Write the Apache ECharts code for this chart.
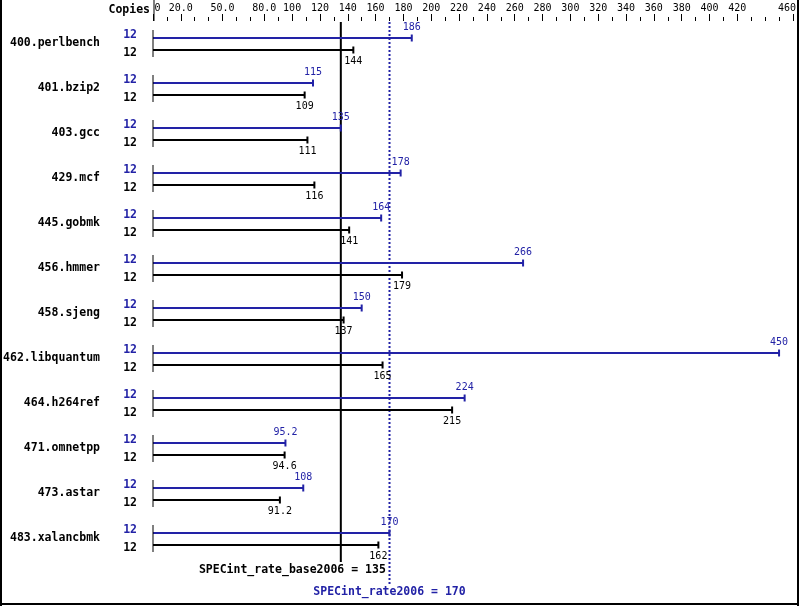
<!DOCTYPE html>
<html><head><meta charset="utf-8">
<script src="https://cdn.jsdelivr.net/npm/echarts@6/dist/echarts.min.js"></script>
<style>html,body{margin:0;padding:0;background:#fff}#c{width:799px;height:606px}</style>
</head><body><div id="c"></div>
<script>
// ---- data ----
const benchmarks = ['400.perlbench','401.bzip2','403.gcc','429.mcf','445.gobmk','456.hmmer','458.sjeng','462.libquantum','464.h264ref','471.omnetpp','473.astar','483.xalancbmk'];
const peakCopies = [12,12,12,12,12,12,12,12,12,12,12,12];
const baseCopies = [12,12,12,12,12,12,12,12,12,12,12,12];
const peakValues = [186,115,135,178,164,266,150,450,224,95.2,108,170];
const baseValues = [144,109,111,116,141,179,137,165,215,94.6,91.2,162];
const tickValues = [0,20,50,80,100,120,140,160,180,200,220,240,260,280,300,320,340,360,380,400,420,460];
const tickLabels = ['0','20.0','50.0','80.0','100','120','140','160','180','200','220','240','260','280','300','320','340','360','380','400','420','460'];
const specBase = 135;
const specPeak = 170;
const baseLabel = 'SPECint_rate_base2006 = 135';
const peakLabel = 'SPECint_rate2006 = 170';

const BLUE = '#2222a6';
const MONO = '"DejaVu Sans Mono", monospace';
const fmt = v => v < 100 ? v.toFixed(1) : String(Math.round(v));

function barItem(color, dy, above, drawStart) {
  return function (params, api) {
    const cat = api.value(0), v = api.value(1);
    const p0 = api.coord([0, cat]), p1 = api.coord([v, cat]);
    const y = Math.round(p0[1] + dy);
    const ch = [
      {type: 'line', shape: {x1: p0[0], y1: y, x2: p1[0], y2: y}, style: {stroke: color, lineWidth: 2}},
      {type: 'line', shape: {x1: p1[0], y1: y - 3.5, x2: p1[0], y2: y + 3.5}, style: {stroke: color, lineWidth: 2}},
      {type: 'text', x: p1[0], y: above ? y - 11 : y + 11,
       style: {text: fmt(v), fill: color, font: '10px ' + MONO, align: 'center', verticalAlign: 'middle'}}
    ];
    if (drawStart) ch.push({type: 'line', shape: {x1: p0[0], y1: p0[1] - 13.5, x2: p0[0], y2: p0[1] + 13.5}, style: {stroke: '#000', lineWidth: 1}});
    return {type: 'group', children: ch};
  };
}

function refItem(params, api) {
  const cs = params.coordSys;
  const v = api.value(0);
  const x = api.coord([v, 0])[0];
  const top = cs.y + 1, bottom = cs.y + cs.height;
  if (v === specBase) {
    return {type: 'group', children: [
      {type: 'line', shape: {x1: x, y1: top, x2: x, y2: bottom + 1}, style: {stroke: '#000', lineWidth: 2}},
      {type: 'text', x: x + 45, y: bottom + 9, style: {text: baseLabel, fill: '#000', font: 'bold 11.5px ' + MONO, align: 'right', verticalAlign: 'middle'}}
    ]};
  }
  return {type: 'group', children: [
    {type: 'line', shape: {x1: x, y1: top, x2: x, y2: bottom + 23}, style: {stroke: BLUE, lineWidth: 2, lineDash: [2, 2]}},
    {type: 'text', x: x, y: bottom + 31, style: {text: peakLabel, fill: BLUE, font: 'bold 11.5px ' + MONO, align: 'center', verticalAlign: 'middle'}}
  ]};
}

const chart = echarts.init(document.getElementById('c'), null, {renderer: 'canvas'});
chart.setOption({
  animation: false,
  backgroundColor: '#fff',
  grid: {left: 153, width: 643, top: 21, height: 540},
  xAxis: [{
    type: 'value', position: 'top', min: 0, max: 460,
    axisLine: {show: false}, splitLine: {show: false},
    axisTick: {show: true, customValues: tickValues, length: 7, lineStyle: {color: '#000', width: 1}},
    axisLabel: {
      customValues: tickValues, margin: 8, color: '#000', fontFamily: MONO, fontSize: 10,
      formatter: function (v) {
        const s = tickLabels[tickValues.indexOf(v)];
        if (v === 0) return '{l|' + s + '}';
        if (v === 460) return '{r|' + s + '}';
        return s;
      },
      rich: {l: {padding: [0, 0, 0, 9], fontFamily: MONO, fontSize: 10, color: '#000'},
             r: {padding: [0, 12, 0, 0], fontFamily: MONO, fontSize: 10, color: '#000'}}
    }
  }, {
    type: 'value', position: 'top', min: 0, max: 460, interval: 10,
    axisLine: {show: false}, splitLine: {show: false}, axisLabel: {show: false},
    axisTick: {show: true, length: 4, lineStyle: {color: '#000', width: 1}}
  }],
  yAxis: {
    type: 'category', data: benchmarks, inverse: true,
    axisLine: {show: false}, axisTick: {show: false}, splitLine: {show: false},
    axisLabel: {
      margin: 16, align: 'right', padding: [4, 0, 0, 0],
      formatter: function (name, i) {
        return '{p|' + peakCopies[i] + '}\n{n|' + name + '}\n{b|' + baseCopies[i] + '}';
      },
      rich: {
        p: {color: BLUE, fontFamily: MONO, fontWeight: 'bold', fontSize: 11.5, lineHeight: 8, align: 'right'},
        n: {color: '#000', fontFamily: MONO, fontWeight: 'bold', fontSize: 11.5, lineHeight: 8, align: 'right', padding: [0, 37, 0, 0]},
        b: {color: '#000', fontFamily: MONO, fontWeight: 'bold', fontSize: 11.5, lineHeight: 12, align: 'right'}
      }
    }
  },
  series: [
    {type: 'custom', name: 'ref', z: 1, clip: false, renderItem: refItem,
     encode: {x: 0, y: 1}, data: [[specBase, 0], [specPeak, 0]]},
    {type: 'custom', name: 'Peak', z: 3, clip: false, renderItem: barItem(BLUE, -5.5, true, false),
     encode: {x: 1, y: 0}, data: peakValues.map((v, i) => [i, v])},
    {type: 'custom', name: 'Base', z: 3, clip: false, renderItem: barItem('#000', 6.5, false, true),
     encode: {x: 1, y: 0}, data: baseValues.map((v, i) => [i, v])}
  ],
  graphic: [
    {type: 'rect', shape: {x: 0, y: 0, width: 2, height: 606}, style: {fill: '#000'}},
    {type: 'rect', shape: {x: 797, y: 0, width: 2, height: 606}, style: {fill: '#000'}},
    {type: 'rect', shape: {x: 0, y: 603, width: 799, height: 2}, style: {fill: '#000'}},
    {type: 'line', shape: {x1: 154, y1: 0, x2: 154, y2: 21}, style: {stroke: '#000', lineWidth: 1}},
    {type: 'text', x: 150, y: 10, style: {text: 'Copies', fill: '#000', font: 'bold 11.5px ' + MONO, align: 'right', verticalAlign: 'middle'}}
  ]
});
</script>
</body></html>
